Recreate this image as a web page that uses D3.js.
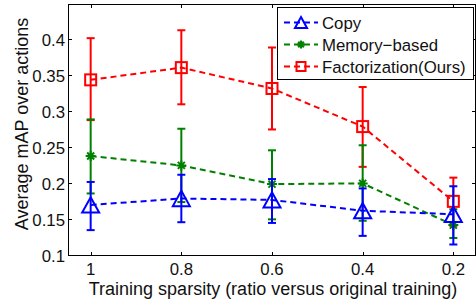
<!DOCTYPE html>
<html>
<head>
<meta charset="utf-8">
<script src="https://cdn.jsdelivr.net/npm/d3@7"></script>
<style>
  body { margin: 0; background: #fff; }
  svg { display: block; font-family: "Liberation Sans", Arial, sans-serif; }
</style>
</head>
<body>
<div id="chart"></div>
<script>
// sparsity levels (x) and tick labels
var xVals = [1, 0.8, 0.6, 0.4, 0.2];
var xTickLabels = ["1", "0.8", "0.6", "0.4", "0.2"];
var yTicks = [0.1, 0.15, 0.2, 0.25, 0.3, 0.35, 0.4];
var yTickLabels = ["0.1", "0.15", "0.2", "0.25", "0.3", "0.35", "0.4"];

// Copy
var copyMean = [0.171, 0.180, 0.178, 0.163, 0.158];
var copyLo   = [0.136, 0.147, 0.146, 0.128, 0.116];
var copyHi   = [0.203, 0.213, 0.207, 0.194, 0.197];
// Memory-based
var memMean = [0.239, 0.226, 0.200, 0.201, 0.143];
var memLo   = [0.187, 0.175, 0.151, 0.149, 0.125];
var memHi   = [0.290, 0.277, 0.247, 0.254, 0.165];
// Factorization(Ours)
var factMean = [0.345, 0.362, 0.333, 0.280, 0.176];
var factLo   = [0.289, 0.311, 0.276, 0.224, 0.142];
var factHi   = [0.403, 0.414, 0.390, 0.335, 0.209];

var seriesNames = ["Copy", "Memory\u2212based", "Factorization(Ours)"];

var W = 476, H = 300;
var mLeft = 68, mRight = 476, mTop = 4, mBottom = 256;
var fs = 16.8;      // tick + legend text
var fsLabel = 18;   // axis titles

var svg = d3.select("#chart").append("svg")
    .attr("width", W).attr("height", H);

var x = d3.scaleLinear().domain([1.05, 0.15]).range([mLeft, mRight]);
var y = d3.scaleLinear().domain([0.1, 0.4505]).range([mBottom, mTop]);

// series definitions (drawing order: red, green, blue on top)
var series = [
  {name: seriesNames[2], color: "#ff0000", marker: "square", mean: factMean, lo: factLo, hi: factHi},
  {name: seriesNames[1], color: "#008000", marker: "star", mean: memMean, lo: memLo, hi: memHi},
  {name: seriesNames[0], color: "#0000ff", marker: "triangle", mean: copyMean, lo: copyLo, hi: copyHi}
];

function drawMarker(g, kind, cx, cy, color, s) {
  if (kind == "square") {
    g.append("rect").attr("x", cx - s/2).attr("y", cy - s/2)
      .attr("width", s).attr("height", s)
      .attr("fill", "none").attr("stroke", color).attr("stroke-width", 2);
  } else if (kind == "triangle") {
    var h = s * 0.9;
    g.append("path")
      .attr("d", "M" + cx + "," + (cy - h/2) + "L" + (cx + s/2) + "," + (cy + h/2) + "L" + (cx - s/2) + "," + (cy + h/2) + "Z")
      .attr("fill", "none").attr("stroke", color).attr("stroke-width", 2).attr("stroke-linejoin", "miter");
  } else {
    var r = s / 2;
    var d = "M" + (cx - r) + "," + cy + "L" + (cx + r) + "," + cy +
            "M" + cx + "," + (cy - r) + "L" + cx + "," + (cy + r) +
            "M" + (cx - r*0.7) + "," + (cy - r*0.7) + "L" + (cx + r*0.7) + "," + (cy + r*0.7) +
            "M" + (cx - r*0.7) + "," + (cy + r*0.7) + "L" + (cx + r*0.7) + "," + (cy - r*0.7);
    g.append("path").attr("d", d).attr("stroke", color).attr("stroke-width", 2).attr("fill", "none");
  }
}

var markerSize = {square: 11, triangle: 17, star: 10};

// axes box
svg.append("rect").attr("x", mLeft + 0.5).attr("y", mTop + 0.5)
  .attr("width", mRight - mLeft - 1).attr("height", mBottom - mTop - 1)
  .attr("fill", "white").attr("stroke", "black").attr("stroke-width", 1);

// ticks (inward, mirrored)
var tk = svg.append("g").attr("stroke", "black").attr("stroke-width", 1);
xVals.forEach(function (v) {
  var px = Math.round(x(v)) + 0.5;
  tk.append("line").attr("x1", px).attr("x2", px).attr("y1", mBottom).attr("y2", mBottom - 4);
  tk.append("line").attr("x1", px).attr("x2", px).attr("y1", mTop).attr("y2", mTop + 4);
});
yTicks.forEach(function (v) {
  var py = Math.round(y(v)) - 0.5;
  tk.append("line").attr("x1", mLeft).attr("x2", mLeft + 4).attr("y1", py).attr("y2", py);
  tk.append("line").attr("x1", mRight).attr("x2", mRight - 4).attr("y1", py).attr("y2", py);
});

// tick labels
svg.selectAll(".xl").data(xVals).enter().append("text")
  .attr("x", function (d) { return x(d); }).attr("y", 275)
  .attr("text-anchor", "middle").attr("font-size", fs).attr("fill", "#111")
  .text(function (d, i) { return xTickLabels[i]; });
svg.selectAll(".yl").data(yTicks).enter().append("text")
  .attr("x", 65).attr("y", function (d) { return y(d) + 6; })
  .attr("text-anchor", "end").attr("font-size", fs).attr("fill", "#111")
  .text(function (d, i) { return yTickLabels[i]; });

// axis titles
svg.append("text").attr("x", (mLeft + mRight) / 2 + 1).attr("y", 295)
  .attr("text-anchor", "middle").attr("font-size", fsLabel).attr("fill", "#111")
  .text("Training sparsity (ratio versus original training)");
svg.append("text").attr("transform", "translate(28," + 124 + ") rotate(-90)")
  .attr("text-anchor", "middle").attr("font-size", fsLabel).attr("fill", "#111")
  .text("Average mAP over actions");

var line = d3.line().x(function (d) { return x(d[0]); }).y(function (d) { return y(d[1]); });

series.forEach(function (s) {
  var g = svg.append("g");
  var pts = xVals.map(function (v, i) { return [v, s.mean[i]]; });
  g.append("path").attr("d", line(pts)).attr("fill", "none")
    .attr("stroke", s.color).attr("stroke-width", 2).attr("stroke-dasharray", "6,4");
  xVals.forEach(function (v, i) {
    var px = x(v);
    g.append("line").attr("x1", px).attr("x2", px)
      .attr("y1", y(s.lo[i])).attr("y2", y(s.hi[i]))
      .attr("stroke", s.color).attr("stroke-width", 2);
    [s.lo[i], s.hi[i]].forEach(function (e) {
      g.append("line").attr("x1", px - 4).attr("x2", px + 4)
        .attr("y1", y(e)).attr("y2", y(e))
        .attr("stroke", s.color).attr("stroke-width", 2);
    });
    drawMarker(g, s.marker, px, y(s.mean[i]), s.color, markerSize[s.marker]);
  });
});

// legend
var lg = svg.append("g");
lg.append("rect").attr("x", 277.5).attr("y", 7.5).attr("width", 196).attr("height", 72)
  .attr("fill", "white").attr("stroke", "black").attr("stroke-width", 1);
var legendItems = [series[2], series[1], series[0]];
var legendY = [22.5, 44.5, 66.5];
var legendMarkerSize = {square: 9, triangle: 12, star: 8};
legendItems.forEach(function (s, i) {
  var ly = legendY[i];
  lg.append("line").attr("x1", 284).attr("x2", 318).attr("y1", ly).attr("y2", ly)
    .attr("stroke", s.color).attr("stroke-width", 2).attr("stroke-dasharray", "6,4");
  drawMarker(lg, s.marker, 301, ly, s.color, legendMarkerSize[s.marker]);
  lg.append("text").attr("x", 322).attr("y", ly + 6).attr("font-size", fs).attr("fill", "#111")
    .text(s.name);
});
</script>
</body>
</html>
